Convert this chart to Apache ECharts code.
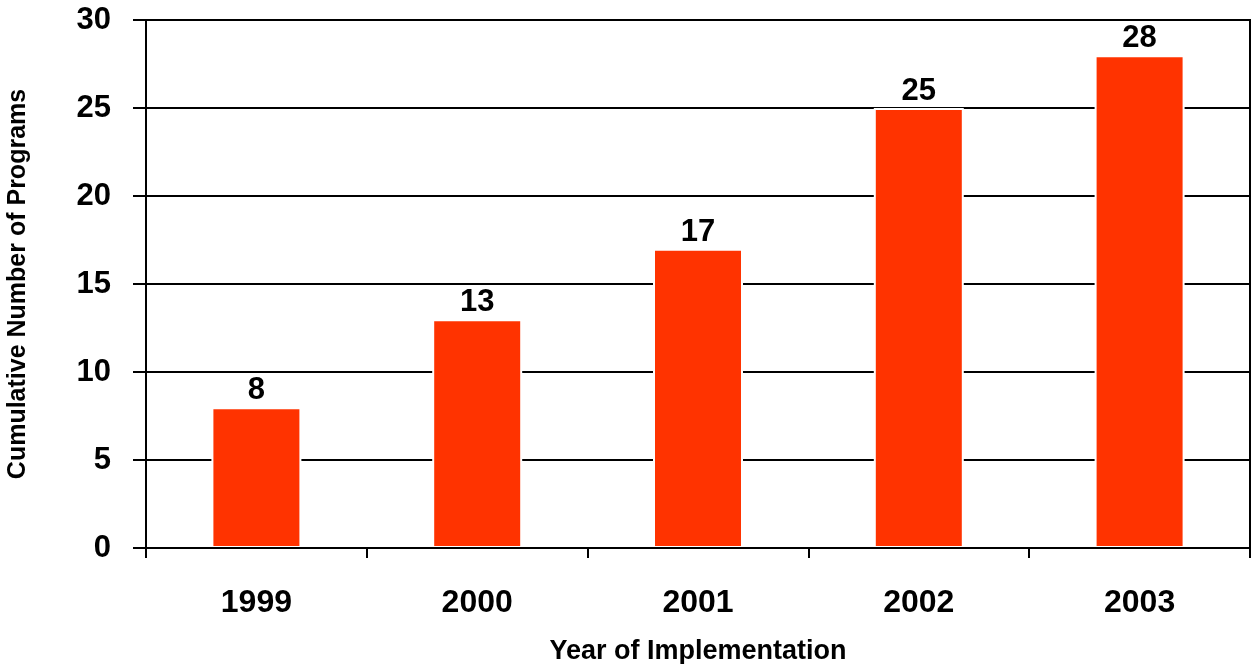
<!DOCTYPE html>
<html>
<head>
<meta charset="utf-8">
<script src="https://cdn.jsdelivr.net/npm/echarts@6/dist/echarts.min.js"></script>
<style>
    html, body { margin: 0; padding: 0; background: #fff; }
    #chart { width: 1252px; height: 664px; }
</style>
</head>
<body>
<div id="chart"></div>
<script>
// chart data
var years = ['1999', '2000', '2001', '2002', '2003'];
var programs = [8, 13, 17, 25, 28];
var yTicks = [0, 5, 10, 15, 20, 25, 30];

var font = '"Liberation Sans", Arial, sans-serif';
var myChart = echarts.init(document.getElementById('chart'));

var option = {
    animation: false,
    backgroundColor: '#fff',
    grid: {
        left: 146,
        right: 2,
        top: 20,
        bottom: 116,
        containLabel: false,
        outerBoundsMode: 'none',
        show: true,
        borderColor: '#000',
        borderWidth: 2
    },
    xAxis: {
        type: 'category',
        data: years,
        z: 3,
        name: 'Year of Implementation',
        nameLocation: 'middle',
        nameGap: 90,
        nameTextStyle: {
            fontFamily: font,
            fontWeight: 'bold',
            fontSize: 27,
            color: '#000'
        },
        axisLine: { lineStyle: { color: '#000', width: 2 } },
        axisTick: { show: true, alignWithLabel: false, length: 10, lineStyle: { color: '#000', width: 2 } },
        axisLabel: {
            margin: 39,
            fontFamily: font,
            fontWeight: 'bold',
            fontSize: 32,
            color: '#000'
        }
    },
    yAxis: {
        type: 'value',
        min: yTicks[0],
        max: yTicks[yTicks.length - 1],
        interval: 5,
        name: 'Cumulative Number of Programs',
        nameLocation: 'middle',
        nameGap: 115,
        nameTextStyle: {
            fontFamily: font,
            fontWeight: 'bold',
            fontSize: 25,
            color: '#000'
        },
        axisLine: { show: true, lineStyle: { color: '#000', width: 2 } },
        axisTick: { show: true, inside: false, length: 13, lineStyle: { color: '#000', width: 2 } },
        axisLabel: {
            margin: 35,
            fontFamily: font,
            fontWeight: 'bold',
            fontSize: 31,
            color: '#000'
        },
        splitLine: { lineStyle: { color: '#000', width: 2 } }
    },
    series: [{
        type: 'bar',
        data: programs,
        barWidth: 90,
        itemStyle: {
            color: '#FF3300',
            borderColor: '#fff',
            borderWidth: 2
        },
        label: {
            show: true,
            position: 'top',
            distance: 1,
            fontFamily: font,
            fontWeight: 'bold',
            fontSize: 31,
            color: '#000'
        }
    }]
};

myChart.setOption(option, true);
</script>
</body>
</html>
